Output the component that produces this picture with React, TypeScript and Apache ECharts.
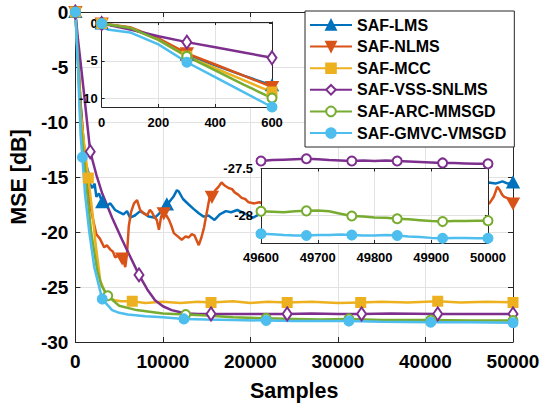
import React, { useEffect, useRef } from "react";
import * as echarts from "echarts";

const FONT = "'Liberation Sans', Arial, Helvetica, sans-serif";
const NAMES = ["SAF-LMS", "SAF-NLMS", "SAF-MCC", "SAF-VSS-SNLMS", "SAF-ARC-MMSGD", "SAF-GMVC-VMSGD"];
const COLORS = ["#0072BD", "#D95319", "#EDB120", "#7E2F8E", "#77AC30", "#4DBEEE"];

// Tick values
const mainXTicks = [0, 10000, 20000, 30000, 40000, 50000];
const mainYTicks = [-30, -25, -20, -15, -10, -5, 0];
const inset1XTicks = [0, 200, 400, 600];
const inset1YTicks = [-10, -5, 0];
const inset1YRange = [-11.2, 0.2];
const inset2XTicks = [49600, 49700, 49800, 49900, 50000];
const inset2YTicks = [-28, -27.5];
const inset2YRange = [-28.3, -27.5];

// Main plot series: [samples, MSE dB]
const lmsMain = [[0,0],[300,-4.3],[600,-8.3],[900,-11.5],[1140,-13.7],[1500,-14.6],[1700,-15.7],[1930,-16],[2200,-15.6],[2400,-16.8],[2700,-16.5],[3070,-17.3],[3600,-17.6],[4000,-17.4],[4540,-18],[5000,-18.2],[5500,-18.4],[5900,-18.1],[6250,-18.7],[6800,-18.5],[7400,-18.1],[7840,-18.3],[8400,-18.6],[9100,-18.7],[9600,-18.3],[10200,-17.6],[10450,-17.5],[10700,-17.3],[11200,-16.8],[11600,-16.2],[11800,-16.3],[12300,-17],[12950,-17.5],[13500,-17.9],[14100,-18.3],[14650,-18.6],[15200,-18.5],[15900,-18.9],[16500,-18.4],[17200,-18.1],[17800,-18.2],[18500,-18.0],[19300,-18.3],[19800,-18.5],[20300,-18.7],[21000,-18.4],[22000,-18.6],[25000,-18],[28000,-17.5],[32000,-17.8],[36000,-17],[40000,-16.5],[44000,-16.2],[47200,-15.5],[48000,-15.6],[48800,-15.4],[49400,-15.6],[50000,-15.5]];
const lmsMarkers = [0, 3070, 10450, 50000];

const nlmsMain = [[0,0],[300,-4.0],[600,-8.5],[900,-11.5],[1100,-13],[1400,-15.5],[1700,-17.5],[2000,-18.8],[2400,-20.2],[2800,-20.6],[3300,-21.4],[3600,-21.2],[4000,-21.6],[4300,-21.8],[4540,-22.3],[5000,-22.1],[5340,-22.4],[5500,-22.6],[5700,-23.2],[5900,-22.0],[6100,-19.5],[6360,-18.2],[6700,-17.4],[7050,-17.1],[7400,-18.0],[7800,-18.3],[8200,-18.5],[8500,-18.0],[8750,-18.2],[9000,-18.6],[9300,-18.9],[9550,-19.8],[9800,-18.6],[10100,-18.3],[10400,-18.5],[10700,-18.9],[11000,-19.5],[11250,-20.1],[11700,-20.4],[12150,-20.7],[12600,-20.4],[12950,-20.5],[13300,-20.2],[13600,-20.3],[14100,-21.2],[14400,-20.5],[14700,-19.6],[15000,-18.3],[15350,-16.8],[15600,-16.8],[16000,-16.2],[16350,-15.9],[16700,-15.5],[17100,-15.8],[17500,-16.0],[17900,-16.1],[18200,-16.4],[18600,-16.6],[19000,-16.9],[19400,-17.0],[19800,-17.3],[20450,-17.4],[21000,-17.3],[23000,-17.8],[26000,-18.2],[30000,-17.6],[34000,-18.4],[38000,-17.5],[42000,-18.0],[46000,-17.2],[47300,-17.4],[47800,-16.8],[48200,-15.9],[48500,-16.2],[48750,-16.6],[49000,-16.8],[49300,-16.9],[49600,-17.0],[50000,-17.4]];
const nlmsMarkers = [0, 5340, 10100, 15600, 50000];

const mccMain = [[0,0],[300,-4.5],[600,-9.2],[1000,-12],[1480,-15.1],[2000,-18.6],[2300,-21],[2840,-24.4],[3400,-25.5],[3860,-26.0],[4500,-26.2],[5200,-26.3],[6500,-26.3],[8000,-26.45],[10000,-26.35],[12000,-26.45],[14000,-26.35],[15500,-26.4],[18000,-26.3],[20000,-26.45],[22000,-26.35],[24200,-26.4],[27000,-26.35],[30000,-26.45],[32600,-26.4],[35000,-26.35],[38000,-26.4],[41400,-26.3],[44000,-26.4],[47000,-26.35],[50000,-26.4]];
const mccMarkers = [0, 1480, 6500, 15500, 24200, 32600, 41400, 50000];

const vssMain = [[0,0],[300,-2.5],[600,-4.6],[1000,-7.5],[1700,-12.7],[2400,-14.8],[3070,-16.5],[4200,-18.7],[5340,-20.7],[6300,-22.3],[7270,-23.9],[8200,-25.2],[9100,-26.2],[10000,-26.75],[11000,-27.1],[12000,-27.3],[12900,-27.4],[14000,-27.45],[15500,-27.45],[18000,-27.45],[21000,-27.45],[24200,-27.45],[27000,-27.4],[30000,-27.45],[32700,-27.45],[36000,-27.4],[41400,-27.45],[45000,-27.45],[50000,-27.45]];
const vssMarkers = [0, 1700, 7270, 15500, 24200, 32700, 41400, 50000];

const arcMain = [[0,0],[300,-4.4],[600,-10.0],[800,-11.8],[1300,-16],[1800,-20],[2500,-23.5],[3000,-24.9],[3700,-25.8],[5000,-26.7],[7000,-27.1],[10000,-27.4],[12600,-27.5],[15000,-27.6],[18000,-27.75],[21800,-27.85],[25000,-27.9],[28000,-27.95],[31250,-27.9],[35000,-28.0],[40600,-28.0],[45000,-28.05],[50000,-28.05]];
const arcMarkers = [0, 3700, 12600, 21800, 31250, 40600, 50000];

const gmvcMain = [[0,0],[300,-5.2],[600,-11.2],[800,-13.2],[1100,-16.5],[1590,-20],[2160,-23.2],[3070,-26.1],[4200,-27.1],[5000,-27.35],[6000,-27.5],[8000,-27.65],[10000,-27.75],[12400,-27.9],[15000,-27.95],[18000,-28.0],[21800,-28.05],[25000,-28.1],[31250,-28.1],[35000,-28.15],[40600,-28.2],[45000,-28.2],[50000,-28.25]];
const gmvcMarkers = [0, 800, 3070, 12400, 21800, 31250, 40600, 50000];

// Inset 1 (first 600 samples)
const lmsInset = [[0,0],[100,-0.6],[200,-2.1],[300,-4.2],[400,-5.6],[500,-7.0],[600,-8.3]];
const nlmsInset = [[0,0],[100,-0.5],[200,-2.0],[300,-4.0],[400,-5.5],[500,-7.0],[600,-8.5]];
const mccInset = [[0,0],[100,-0.6],[200,-2.2],[300,-4.4],[400,-6.0],[500,-7.6],[600,-9.2]];
const vssInset = [[0,0],[100,-0.8],[200,-1.7],[300,-2.5],[400,-3.2],[500,-3.9],[600,-4.6]];
const arcInset = [[0,0],[100,-0.6],[200,-2.2],[300,-4.4],[400,-6.3],[500,-8.2],[600,-10.0]];
const gmvcInset = [[0,0],[20,-0.8],[100,-1.2],[200,-2.8],[300,-5.2],[400,-7.2],[500,-9.2],[600,-11.2]];
const inset1Markers = [0, 300, 600];

// Inset 2 (last 400 samples)
const vssTail = [[49600,-27.42],[49620,-27.41],[49640,-27.405],[49660,-27.40],[49680,-27.395],[49700,-27.40],[49720,-27.41],[49740,-27.415],[49760,-27.42],[49780,-27.415],[49800,-27.42],[49820,-27.415],[49840,-27.42],[49860,-27.425],[49880,-27.43],[49900,-27.435],[49920,-27.44],[49940,-27.44],[49960,-27.445],[49980,-27.45],[50000,-27.45]];
const arcTail = [[49600,-27.96],[49620,-27.965],[49640,-27.97],[49660,-27.96],[49680,-27.955],[49700,-27.95],[49720,-27.96],[49740,-27.985],[49760,-28.01],[49780,-28.015],[49800,-28.025],[49820,-28.03],[49840,-28.04],[49860,-28.045],[49880,-28.055],[49900,-28.065],[49920,-28.07],[49940,-28.065],[49960,-28.065],[49980,-28.06],[50000,-28.06]];
const gmvcTail = [[49600,-28.20],[49620,-28.205],[49640,-28.215],[49660,-28.22],[49680,-28.22],[49700,-28.215],[49720,-28.215],[49740,-28.21],[49760,-28.215],[49780,-28.22],[49800,-28.22],[49820,-28.215],[49840,-28.22],[49860,-28.23],[49880,-28.235],[49900,-28.245],[49920,-28.25],[49940,-28.245],[49960,-28.245],[49980,-28.25],[50000,-28.25]];
const inset2Markers = [49600, 49680, 49760, 49840, 49920, 50000];

const AXIS_COLOR = "#262626";
const GRID_COLOR = "#e2e2e2";

function mk(points: number[][], markers: number[]) {
  return points.map(([x, y]) =>
    markers.indexOf(x) >= 0 ? { value: [x, y] } : { value: [x, y], symbol: "none" }
  );
}

function lineSeries(
  name: string, color: string, points: number[][], markers: number[],
  symbol: string, symbolSize: any, axisIdx: number, z: number, rotate = 0
) {
  return {
    type: "line",
    name,
    xAxisIndex: axisIdx,
    yAxisIndex: axisIdx,
    data: mk(points, markers),
    symbol,
    symbolSize,
    symbolRotate: rotate,
    showSymbol: true,
    showAllSymbol: true,
    clip: axisIdx === 0,
    z,
    lineStyle: { color, width: 2.5 },
    itemStyle: { color, borderColor: color, borderWidth: symbol === "emptyDiamond" ? 2.6 : 2 },
    emphasis: { disabled: true },
  };
}

function ax(grid: number, pos: string, min: number, max: number, ticks: number[], labels: boolean, split: boolean, fontSize: number, z: number, tickLen: number, margin: number) {
  return {
    type: "value", gridIndex: grid, position: pos, min, max, z,
    axisLine: { show: true, onZero: false, lineStyle: { color: AXIS_COLOR, width: 1 } },
    axisTick: { show: true, inside: true, length: tickLen, customValues: ticks, lineStyle: { color: AXIS_COLOR } },
    axisLabel: {
      show: labels, customValues: ticks, fontSize, fontWeight: "bold", fontFamily: FONT, color: "#000", margin,
      formatter: (v: number) => String(v),
    },
    splitLine: { show: split, lineStyle: { color: GRID_COLOR, width: 1 } },
  };
}

export default function App() {
  const ref = useRef<HTMLDivElement>(null);
  useEffect(() => {
    if (!ref.current) return;
    const chart = echarts.init(ref.current, null, { renderer: "svg" });
    const symbols: any[] = [
      ["triangle", [11, 10], 0],
      ["triangle", [11, 10], 180],
      ["rect", 9, 0],
      ["emptyDiamond", [9, 13], 0],
      ["emptyCircle", 9, 0],
      ["circle", 9, 0],
    ];
    const mains = [lmsMain, nlmsMain, mccMain, vssMain, arcMain, gmvcMain];
    const mainMarks = [lmsMarkers, nlmsMarkers, mccMarkers, vssMarkers, arcMarkers, gmvcMarkers];
    const insets = [lmsInset, nlmsInset, mccInset, vssInset, arcInset, gmvcInset];
    const series: any[] = [];
    NAMES.forEach((n, i) => {
      series.push(lineSeries(n, COLORS[i], mains[i], mainMarks[i], symbols[i][0], symbols[i][1], 0, 2, symbols[i][2]));
    });
    NAMES.forEach((n, i) => {
      series.push(lineSeries(n, COLORS[i], insets[i], inset1Markers, symbols[i][0], symbols[i][1], 2, 7, symbols[i][2]));
    });
    series.push(lineSeries(NAMES[3], COLORS[3], vssTail, inset2Markers, "emptyCircle", 9, 4, 7));
    series.push(lineSeries(NAMES[4], COLORS[4], arcTail, inset2Markers, "emptyCircle", 9, 4, 7));
    series.push(lineSeries(NAMES[5], COLORS[5], gmvcTail, inset2Markers, "circle", 9, 4, 7));

    const last = (a: number[]) => a[a.length - 1];
    const option: any = {
      animation: false,
      backgroundColor: "#fff",
      textStyle: { fontFamily: FONT },
      grid: [
        { left: 73, top: 12, width: 440, height: 330, containLabel: false },
        { left: 101.7, top: 22, width: 170.3, height: 85, show: true, backgroundColor: "#fff", borderWidth: 0, z: 5 },
        { left: 261, top: 168.5, width: 227, height: 74.5, show: true, backgroundColor: "#fff", borderWidth: 0, z: 5 },
      ],
      xAxis: [
        { ...ax(0, "bottom", mainXTicks[0], last(mainXTicks), mainXTicks, true, true, 19, 0, 5, 10),
          name: "Samples", nameLocation: "middle", nameGap: 38,
          nameTextStyle: { fontSize: 21.5, fontWeight: "bold", fontFamily: FONT, color: "#000" } },
        ax(0, "top", mainXTicks[0], last(mainXTicks), mainXTicks, false, false, 19, 0, 5, 8),
        ax(1, "bottom", inset1XTicks[0], last(inset1XTicks), inset1XTicks, true, true, 13, 6, 3, 9),
        ax(1, "top", inset1XTicks[0], last(inset1XTicks), inset1XTicks, false, false, 13, 6, 3, 8),
        ax(2, "bottom", inset2XTicks[0], last(inset2XTicks), inset2XTicks, true, true, 13, 6, 3, 8),
        ax(2, "top", inset2XTicks[0], last(inset2XTicks), inset2XTicks, false, false, 13, 6, 3, 8),
      ],
      yAxis: [
        { ...ax(0, "left", mainYTicks[0], last(mainYTicks), mainYTicks, true, true, 19, 0, 5, 7),
          name: "MSE [dB]", nameLocation: "middle", nameGap: 36,
          nameTextStyle: { fontSize: 21.5, fontWeight: "bold", fontFamily: FONT, color: "#000" } },
        ax(0, "right", mainYTicks[0], last(mainYTicks), mainYTicks, false, false, 19, 0, 5, 8),
        ax(1, "left", inset1YRange[0], inset1YRange[1], inset1YTicks, true, true, 13, 6, 3, 4),
        ax(1, "right", inset1YRange[0], inset1YRange[1], inset1YTicks, false, false, 13, 6, 3, 8),
        ax(2, "left", inset2YRange[0], inset2YRange[1], inset2YTicks, true, true, 13, 6, 3, 8),
        ax(2, "right", inset2YRange[0], inset2YRange[1], inset2YTicks, false, false, 13, 6, 3, 8),
      ],
      legend: {
        data: NAMES,
        orient: "vertical",
        left: 305,
        top: 11,
        padding: [6, 8, 6, 4],
        itemGap: 5.6,
        itemWidth: 42,
        itemHeight: 12,
        backgroundColor: "#fff",
        borderColor: AXIS_COLOR,
        borderWidth: 1,
        z: 10,
        selectedMode: false,
        textStyle: { fontFamily: FONT, fontSize: 16, fontWeight: "bold", color: "#000", lineHeight: 16 },
      },
      series,
    };
    chart.setOption(option);
    return () => chart.dispose();
  }, []);
  return (
    <div
      ref={ref}
      style={{ position: "fixed", left: 0, top: 0, width: 547, height: 408, background: "#fff" }}
    />
  );
}
